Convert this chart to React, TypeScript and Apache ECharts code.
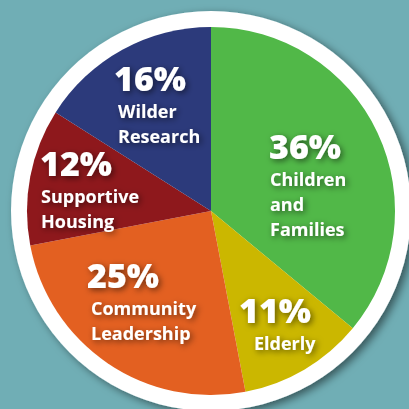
import React, { useEffect, useRef } from "react";
import * as echarts from "echarts";

const categories = [
  "Children and Families",
  "Elderly",
  "Community Leadership",
  "Supportive Housing",
  "Wilder Research",
];
const labelLines = [
  ["Children", "and", "Families"],
  ["Elderly"],
  ["Community", "Leadership"],
  ["Supportive", "Housing"],
  ["Wilder", "Research"],
];
const values = [36, 11, 25, 12, 16];
const colors = ["#51B848", "#CBB700", "#E36021", "#8E181C", "#2C3A7B"];
const labelPos = [
  [269, 125],
  [239, 289],
  [87, 254],
  [40, 142],
  [114, 57],
];
const nameIndent = [1, 15, 4, 1, 4];

const FONT = "'Open Sans', 'Noto Sans', sans-serif";

export default function App() {
  const ref = useRef<HTMLDivElement>(null);
  useEffect(() => {
    document.body.style.margin = "0";
    const chart = echarts.init(ref.current!, null, { renderer: "svg" });
    const shadow = {
      textShadowColor: "rgba(0,0,0,0.55)",
      textShadowBlur: 6,
      textShadowOffsetX: 2,
      textShadowOffsetY: 2,
    };
    const data = categories.map((name, i) => ({
      name,
      value: values[i],
      itemStyle: { color: colors[i] },
      label: {
        rich: {
          p: {
            fontFamily: FONT,
            fontWeight: 800,
            fontSize: 34,
            lineHeight: 41,
            color: "#fff",
            ...shadow,
          },
          n: {
            fontFamily: FONT,
            fontWeight: 700,
            fontSize: 18,
            lineHeight: 25,
            color: "#fff",
            padding: [0, 0, 0, nameIndent[i]],
            ...shadow,
          },
        },
      },
    }));
    chart.setOption({
      animation: false,
      backgroundColor: "#70AEB5",
      graphic: [
        {
          type: "circle",
          z: 0,
          shape: { cx: 211, cy: 211, r: 200 },
          style: {
            fill: "#ffffff",
            shadowBlur: 8,
            shadowColor: "rgba(0,0,0,0.5)",
            shadowOffsetX: 4,
            shadowOffsetY: 3,
          },
        },
      ],
      series: [
        {
          type: "pie",
          z: 2,
          center: [211, 211],
          radius: [0, 184],
          startAngle: 90,
          clockwise: true,
          itemStyle: { borderWidth: 0 },
          labelLine: { show: false },
          label: {
            show: true,
            position: "inside",
            align: "left",
            verticalAlign: "top",
            formatter: (p: any) =>
              `{p|${p.value}%}\n` +
              labelLines[p.dataIndex].map((l) => `{n|${l}}`).join("\n"),
          },
          labelLayout: (params: any) => ({
            x: labelPos[params.dataIndex][0],
            y: labelPos[params.dataIndex][1],
            align: "left",
            verticalAlign: "top",
          }),
          emphasis: { disabled: true },
          data,
        },
      ],
    });
    return () => chart.dispose();
  }, []);
  return <div ref={ref} style={{ width: 409, height: 409 }} />;
}
